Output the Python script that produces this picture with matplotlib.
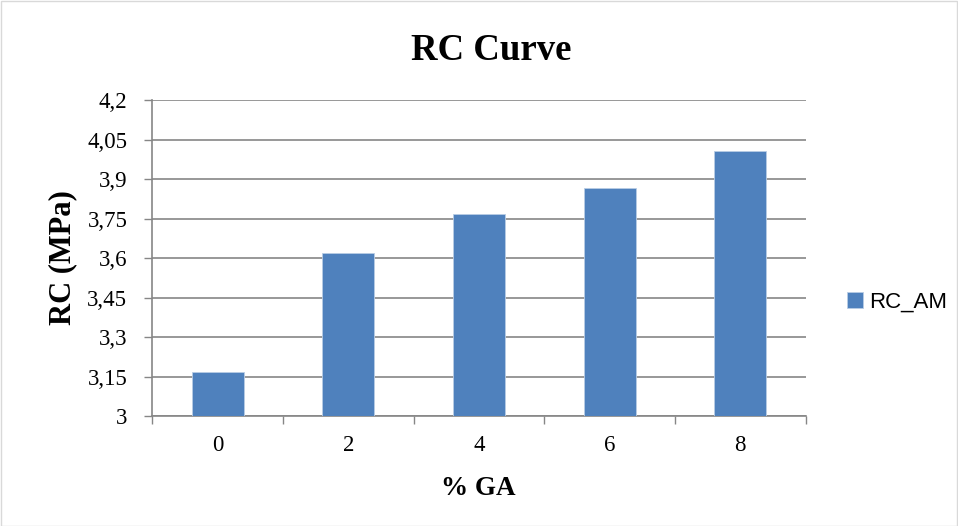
import matplotlib
matplotlib.use("Agg")
import matplotlib.pyplot as plt
from matplotlib.patches import Rectangle
import numpy as np

categories = ["0", "2", "4", "6", "8"]
rc_am = [3.168, 3.62, 3.767, 3.865, 4.005]
yticks = [3.0, 3.15, 3.3, 3.45, 3.6, 3.75, 3.9, 4.05, 4.2]
ytick_labels = ["3", "3,15", "3,3", "3,45", "3,6", "3,75", "3,9", "4,05", "4,2"]

W, H = 958, 526
fig = plt.figure(figsize=(W / 100, H / 100), dpi=100)
fig.patch.set_facecolor("white")
fig.add_artist(Rectangle((0.5 / W, 0.5 / H), 1 - 1.5 / W, 1 - 1.5 / H, transform=fig.transFigure,
                         fill=False, edgecolor="#d9d9d9", linewidth=1))

ax = fig.add_axes([152.3 / W, 1 - 416 / H, (805.7 - 152.3) / W, (416 - 100) / H])
grid_c = "#868686"
x = np.arange(len(categories))
ax.bar(x, rc_am, width=0.4, color="#4F81BD", edgecolor="#B9CDE5", linewidth=0.6,
       zorder=3, label="RC_AM")
ax.set_xlim(-0.5, len(categories) - 0.5)
ax.set_ylim(3.0, 4.2)
ax.set_yticks(yticks)
ax.set_yticklabels(ytick_labels)
ax.yaxis.grid(True, color=grid_c, linewidth=1.2, zorder=0)
ax.set_axisbelow(True)

ax.set_xticks(x)
ax.set_xticklabels(categories)
ax.set_xticks(np.arange(-0.5, len(categories)), minor=True)
ax.tick_params(axis="x", which="major", length=0, pad=14)
ax.tick_params(axis="x", which="minor", length=6, color=grid_c, width=1)
ax.tick_params(axis="y", length=6, color=grid_c, width=1, pad=12)

for s in ["top", "right"]:
    ax.spines[s].set_visible(False)
for s in ["left", "bottom"]:
    ax.spines[s].set_color(grid_c)
    ax.spines[s].set_linewidth(1.2)

serif = "Liberation Serif"
for lab in ax.get_xticklabels() + ax.get_yticklabels():
    lab.set_fontfamily(serif)
    lab.set_fontsize(16.5)
    lab.set_color("black")

fig.text(478 / W, 1 - 495 / H, "% GA", fontfamily=serif, fontsize=19.5, fontweight="bold",
         ha="center", va="baseline")
fig.text(62.5 / W, 1 - 257.5 / H, "RC (MPa)", fontfamily=serif, fontsize=22, fontweight="bold",
         ha="center", va="center", rotation=90)
fig.text(491 / W, 1 - 60 / H, "RC Curve", fontfamily=serif, fontsize=26.5, fontweight="bold",
         ha="center", va="baseline")

leg = fig.legend(loc="center left", bbox_to_anchor=(827 / W, 1 - 302 / H), frameon=False,
                 prop={"family": "Liberation Sans", "size": 16}, handlelength=0.7,
                 handleheight=0.7, handletextpad=0.3)

fig.savefig("out.png", dpi=100)
